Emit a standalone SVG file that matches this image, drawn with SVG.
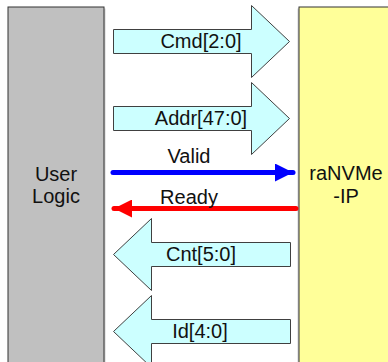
<svg xmlns="http://www.w3.org/2000/svg" width="388" height="362" viewBox="0 0 388 362">
<defs>
<style>
.t{font-family:"Liberation Sans",Arial,sans-serif;font-size:20px;fill:#111111;text-anchor:middle}
.bus{fill:#CCFFFF;stroke:#404040;stroke-width:1}
.sh{fill:#D0D0D0}
</style>
<marker id="ab" viewBox="0 0 10 10" refX="10" refY="5" markerWidth="5.4" markerHeight="3.6" markerUnits="strokeWidth" orient="auto"><path d="M0,0 L10,5 L0,10 Z" fill="#0000FF"/></marker>
<marker id="ar" viewBox="0 0 10 10" refX="10" refY="5" markerWidth="5.4" markerHeight="3.6" markerUnits="strokeWidth" orient="auto"><path d="M0,0 L10,5 L0,10 Z" fill="#FF0000"/></marker>
</defs>
<rect width="388" height="362" fill="#FFFFFF"/>
<g id="user-logic">
<rect x="9.5" y="8.5" width="96" height="360" class="sh"/>
<rect x="8" y="7" width="96" height="360" fill="#C0C0C0" stroke="#333333" stroke-width="1"/>
<text class="t" x="56" y="181">User</text>
<text class="t" x="56" y="203">Logic</text>
</g>
<g id="ranvme-ip">
<rect x="297.5" y="8.5" width="96" height="360" class="sh"/>
<rect x="299" y="7" width="96" height="360" fill="#FFFF99" stroke="#333333" stroke-width="1"/>
<text class="t" x="346" y="180">raNVMe</text>
<text class="t" x="346" y="203">-IP</text>
</g>
<g id="connectors">
<g id="cmd">
<path class="bus" d="M113.5,29.5 H251.5 V5.5 L289.5,41.5 L251.5,77.5 V53.5 H113.5 Z"/>
<text class="t" x="201" y="48">Cmd[2:0]</text>
</g>
<g id="addr">
<path class="bus" d="M113.5,106.5 H251.5 V82.5 L289.5,118.5 L251.5,154.5 V130.5 H113.5 Z"/>
<text class="t" x="201" y="125">Addr[47:0]</text>
</g>
<g id="valid">
<line x1="113" y1="172.5" x2="293" y2="172.5" stroke="#0000FF" stroke-width="5" stroke-linecap="round" marker-end="url(#ab)"/>
<text class="t" x="189" y="163">Valid</text>
</g>
<g id="ready">
<line x1="296" y1="208.5" x2="114" y2="208.5" stroke="#FF0000" stroke-width="5" stroke-linecap="round" marker-end="url(#ar)"/>
<text class="t" x="189" y="204">Ready</text>
</g>
<g id="cnt">
<path class="bus" d="M290.5,242.5 H151.5 V218.5 L113.5,254.5 L151.5,290.5 V266.5 H290.5 Z"/>
<text class="t" x="201" y="261">Cnt[5:0]</text>
</g>
<g id="id">
<path class="bus" d="M290.5,319.5 H151.5 V295.5 L113.5,331.5 L151.5,367.5 V343.5 H290.5 Z"/>
<text class="t" x="200" y="338">Id[4:0]</text>
</g>
</g>
</svg>
